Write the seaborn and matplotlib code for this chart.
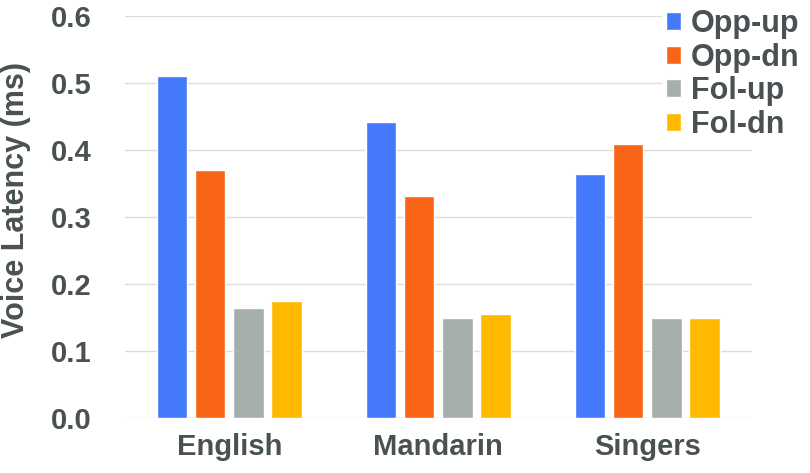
import pandas as pd
import matplotlib.pyplot as plt
import seaborn as sns

# Datos
groups = ["English", "Mandarin", "Singers"]
conditions = ["Opp-up", "Opp-dn", "Fol-up", "Fol-dn"]
opp_up = [0.511, 0.442, 0.364]
opp_dn = [0.370, 0.331, 0.409]
fol_up = [0.164, 0.149, 0.149]
fol_dn = [0.175, 0.156, 0.149]

colors = ["#4479fb", "#f86418", "#a5aead", "#ffb901"]
text_color = "#4a5153"

rows = []
for i, g in enumerate(groups):
    for cond, vals in zip(conditions, [opp_up, opp_dn, fol_up, fol_dn]):
        rows.append({"Group": g, "Condition": cond, "Latency": vals[i]})
df = pd.DataFrame(rows)

sns.set_style("white")
plt.rcParams["font.family"] = ["Liberation Sans", "DejaVu Sans"]

fig = plt.figure(figsize=(8.1, 4.73), dpi=100)
ax = fig.add_axes([0.154, 0.116, 0.774, 0.850])

sns.barplot(data=df, x="Group", y="Latency", hue="Condition",
            hue_order=conditions, palette=colors, width=0.73, gap=0.2,
            saturation=1, ax=ax, zorder=3)

ax.set_ylim(0, 0.6)
ax.set_yticks([0.0, 0.1, 0.2, 0.3, 0.4, 0.5, 0.6])
ax.set_yticklabels([f"{v:.1f}" for v in ax.get_yticks()])
ax.set_xlim(-0.5, 2.5)
ax.grid(axis="y", color="#dddddd", linewidth=1, zorder=0)
ax.set_axisbelow(True)
for s in ax.spines.values():
    s.set_visible(False)

ax.tick_params(axis="y", length=0, pad=24, labelsize=21, labelcolor=text_color)
ax.tick_params(axis="x", length=0, pad=11, labelsize=21, labelcolor=text_color)
for lbl in ax.get_yticklabels() + ax.get_xticklabels():
    lbl.set_fontweight("bold")

ax.set_xlabel("")
ax.set_ylabel("Voice Latency (ms)", fontsize=22, color=text_color,
              fontweight="bold")
ax.yaxis.set_label_coords(-0.150, 0.542)

leg = ax.legend(loc="upper left", bbox_to_anchor=(0.799, 1.02),
                bbox_transform=fig.transFigure, frameon=True,
                facecolor="white", edgecolor="none", framealpha=1,
                handlelength=0.52, handleheight=0.52, handletextpad=0.3,
                labelspacing=0.12, borderpad=0.1, prop={"size": 22, "weight": "bold"})
for t in leg.get_texts():
    t.set_color(text_color)

plt.savefig("out.png", dpi=100)
